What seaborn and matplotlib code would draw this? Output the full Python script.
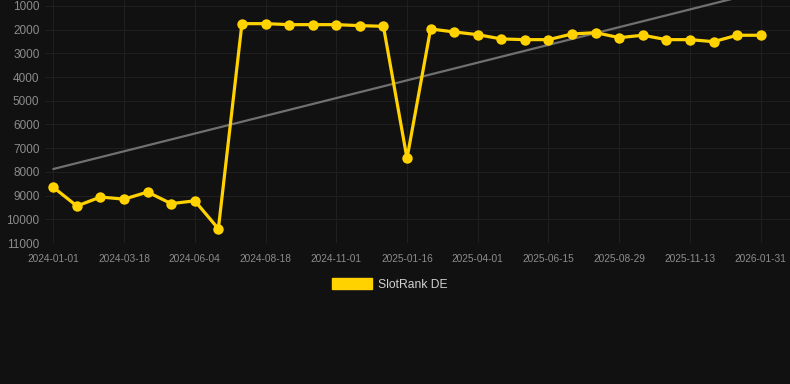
import numpy as np
import pandas as pd
import seaborn as sns
import matplotlib
matplotlib.use("Agg")
import matplotlib.pyplot as plt
from matplotlib.patches import Patch

# ---- data ----
tick_labels = ["2024-01-01", "2024-03-18", "2024-06-04", "2024-08-18", "2024-11-01",
               "2025-01-16", "2025-04-01", "2025-06-15", "2025-08-29", "2025-11-13",
               "2026-01-31"]
rank_values = [8650, 9440, 9060, 9150, 8850, 9340, 9220, 10400,
               1745, 1745, 1787, 1787, 1787, 1829, 1857, 7430,
               1970, 2095, 2210, 2390, 2420, 2420, 2180, 2125,
               2335, 2235, 2420, 2420, 2505, 2235, 2235]
series_name = "SlotRank DE"

idx = np.arange(len(rank_values))
df = pd.DataFrame({"idx": idx, "rank": rank_values})

BG = "#111111"
GRID = "#1f1f1f"
GOLD = "#FFD200"
TXT = "#8c8c8c"

sns.set_theme(style="dark")
plt.rcParams["font.family"] = ["Liberation Sans", "DejaVu Sans"]

fig = plt.figure(figsize=(7.9, 3.84), dpi=100, facecolor=BG)
ax = fig.add_axes([45 / 790, 1 - 243 / 384, 745 / 790, 243 / 384])
ax.set_facecolor(BG)

# trend line (linear regression of the series)
sns.regplot(data=df, x="idx", y="rank", scatter=False, ci=None, truncate=True,
            ax=ax, line_kws=dict(color="#707070", lw=1.6, zorder=2))

sns.lineplot(data=df, x="idx", y="rank", ax=ax, color=GOLD, lw=2.3,
             marker="o", markersize=7.5, markeredgewidth=0, zorder=3)

px_per_unit = 237.3 / 10000
ax.set_ylim(11000, 1000 - 6 / px_per_unit)
ax.set_yticks(np.arange(1000, 11001, 1000))
ax.set_yticklabels([str(v) for v in range(1000, 11001, 1000)])

px_per_idx = (760.7 - 53.3) / 30
ax.set_xlim(-(53.3 - 45) / px_per_idx, (790 - 53.3) / px_per_idx)
ax.set_xticks(idx[::3])
ax.set_xticklabels(tick_labels)

ax.set_xlabel("")
ax.set_ylabel("")
ax.grid(True, color=GRID, lw=0.8)
for s in ax.spines.values():
    s.set_visible(False)
ax.tick_params(axis="x", colors="#262626", length=5, width=0.8, labelcolor=TXT,
               labelsize=7.3, pad=3)
ax.tick_params(axis="y", length=0, labelcolor=TXT, labelsize=8.5, pad=4)

handle = Patch(facecolor=GOLD, edgecolor=GOLD)
leg = fig.legend([handle], [series_name], loc="center",
                 bbox_to_anchor=(390 / 790, 1 - 284.5 / 384), frameon=False,
                 fontsize=8.7, handlelength=3.3, handleheight=1.0,
                 handletextpad=0.5, labelcolor="#d0d0d0")

fig.savefig("out.png", dpi=100, facecolor=BG)
